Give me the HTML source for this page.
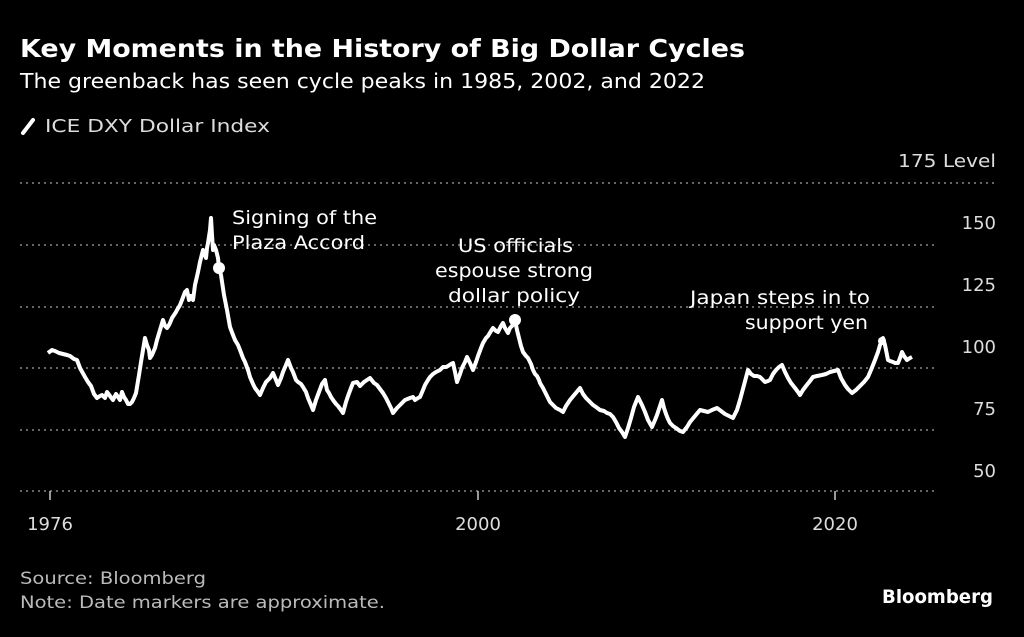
<!DOCTYPE html>
<html><head><meta charset="utf-8"><style>
body{margin:0;background:#000;width:1024px;height:632px;overflow:hidden;font-family:"Liberation Sans",sans-serif;color:#fff}
</style></head><body>
<svg width="1024" height="632" xmlns="http://www.w3.org/2000/svg" font-family="DejaVu Sans, Liberation Sans, sans-serif">
<text x="20" y="57" font-size="25" font-weight="bold" fill="#fff" textLength="725" lengthAdjust="spacingAndGlyphs">Key Moments in the History of Big Dollar Cycles</text>
<text x="20" y="88" font-size="20" fill="#fff" textLength="685" lengthAdjust="spacingAndGlyphs">The greenback has seen cycle peaks in 1985, 2002, and 2022</text>
<line x1="23" y1="133" x2="33" y2="120" stroke="#fff" stroke-width="4" stroke-linecap="round"/>
<text x="45" y="132" font-size="18" fill="#ddd" textLength="225" lengthAdjust="spacingAndGlyphs">ICE DXY Dollar Index</text>
<g stroke="#888" stroke-width="1.5" stroke-dasharray="2,4">
<line x1="20" y1="183" x2="995" y2="183"/><line x1="20" y1="245" x2="938" y2="245"/>
<line x1="20" y1="307" x2="938" y2="307"/><line x1="20" y1="368" x2="938" y2="368"/>
<line x1="20" y1="430" x2="938" y2="430"/><line x1="20" y1="491" x2="938" y2="491"/>
</g>
<g font-size="18" fill="#ddd" text-anchor="end">
<text x="996" y="167" textLength="98" lengthAdjust="spacingAndGlyphs">175 Level</text><text x="996" y="229">150</text><text x="996" y="291">125</text>
<text x="996" y="353">100</text><text x="996" y="415">75</text><text x="996" y="477">50</text>
</g>
<g stroke="#ccc" stroke-width="1.5"><line x1="50" y1="491" x2="50" y2="500"/><line x1="478" y1="491" x2="478" y2="500"/><line x1="835" y1="491" x2="835" y2="500"/></g>
<g font-size="18" fill="#ddd" text-anchor="middle">
<text x="50" y="530">1976</text><text x="478" y="530">2000</text><text x="835" y="530">2020</text></g>
<polyline fill="none" stroke="#fff" stroke-width="4" stroke-linejoin="round" points="48,353 52,350 55,351 59,353 63,354 67,355 70,356 74,359 77,360 80,368 85,377 88,382 91,386 94,394 97,398 100,396 102,395 105,398 107,392 110,396 113,400 116,394 118,397 120,400 122,392 124,397 126,400 128,404 130,404 132,402 134,398 136,393 137,387 139,375 141,362 143,350 145,338 147,345 149,350 150,358 152,355 155,348 157,340 160,330 163,320 165,326 167,328 169,325 170,323 172,318 174,315 176,312 177,310 180,305 182,300 185,292 187,290 189,300 191,296 193,300 195,285 198,272 200,262 203,250 205,255 206,258 207,248 208,243 210,230 211,218 212,235 213,250 214,245 216,250 218,258 219,268 221,275 224,295 227,310 230,327 233,335 235,340 238,345 240,350 243,358 245,362 248,370 250,377 253,384 255,388 258,392 260,395 263,388 266,382 270,378 273,373 276,380 278,385 281,378 283,372 286,365 288,360 291,368 293,372 296,380 298,382 301,384 303,387 306,392 308,398 311,405 313,410 316,400 319,392 322,384 325,380 327,390 329,393 331,397 333,400 336,404 338,406 341,410 343,413 346,402 348,396 351,388 353,383 357,382 360,386 364,382 367,380 370,378 374,383 377,385 380,389 383,393 386,398 388,402 391,408 393,413 397,408 401,404 405,400 410,398 413,397 415,400 418,398 420,397 423,390 425,385 428,380 430,377 433,374 436,372 440,370 443,367 446,367 448,366 451,364 453,363 455,372 457,382 460,374 462,368 465,362 467,357 470,363 473,370 476,362 478,356 481,348 483,343 486,338 488,336 491,331 493,328 496,331 498,332 501,326 503,323 505,328 508,333 510,328 512,326 514,322 515,320 517,330 519,338 521,346 523,352 526,356 528,358 531,364 533,370 535,374 537,376 539,380 540,383 543,388 545,392 548,398 550,402 553,405 556,408 560,410 563,412 566,406 570,400 575,394 580,388 583,394 586,398 590,402 593,405 596,407 600,410 604,411 607,413 610,414 613,417 616,422 619,428 622,432 625,437 628,428 631,418 634,407 638,397 642,405 645,412 648,420 652,427 655,420 657,415 660,406 662,400 664,408 666,414 668,419 670,423 673,426 676,428 680,431 683,432 687,427 690,422 695,416 700,410 704,411 708,412 712,410 717,408 721,411 725,414 729,416 733,418 737,410 740,400 744,385 748,370 751,374 754,376 757,376 760,377 763,380 765,382 768,381 770,380 773,374 776,370 779,367 782,365 785,372 788,378 791,383 795,388 798,392 800,395 803,390 806,386 810,381 813,377 817,376 822,375 826,374 830,372 834,371 838,370 841,378 845,385 848,389 852,393 856,390 860,386 864,382 868,377 871,370 875,360 878,352 880,345 882,341 883,338 885,345 886,350 887,355 888,360 890,361 893,362 895,363 898,363 900,358 902,352 904,356 907,360 910,358 912,357"/>
<circle cx="219" cy="268" r="6" fill="#fff"/>
<circle cx="515" cy="320" r="6" fill="#fff"/>
<circle cx="882" cy="341" r="4" fill="#fff"/>
<g font-size="19" fill="#fff">
<text x="232" y="224" textLength="145" lengthAdjust="spacingAndGlyphs">Signing of the</text><text x="232" y="249" textLength="133" lengthAdjust="spacingAndGlyphs">Plaza Accord</text>
<text x="458" y="252" textLength="115" lengthAdjust="spacingAndGlyphs">US officials</text>
<text x="435" y="277" textLength="158" lengthAdjust="spacingAndGlyphs">espouse strong</text>
<text x="448" y="302" textLength="132" lengthAdjust="spacingAndGlyphs">dollar policy</text>
<text x="690" y="304" textLength="180" lengthAdjust="spacingAndGlyphs">Japan steps in to</text>
<text x="745" y="329" textLength="123" lengthAdjust="spacingAndGlyphs">support yen</text>
</g>
<g font-size="17" fill="#bbb"><text x="20" y="584" textLength="186" lengthAdjust="spacingAndGlyphs">Source: Bloomberg</text><text x="20" y="608" textLength="365" lengthAdjust="spacingAndGlyphs">Note: Date markers are approximate.</text></g>
<text x="882" y="603" font-size="19" font-weight="bold" fill="#fff" textLength="111" lengthAdjust="spacingAndGlyphs">Bloomberg</text>
</svg>
</body></html>
